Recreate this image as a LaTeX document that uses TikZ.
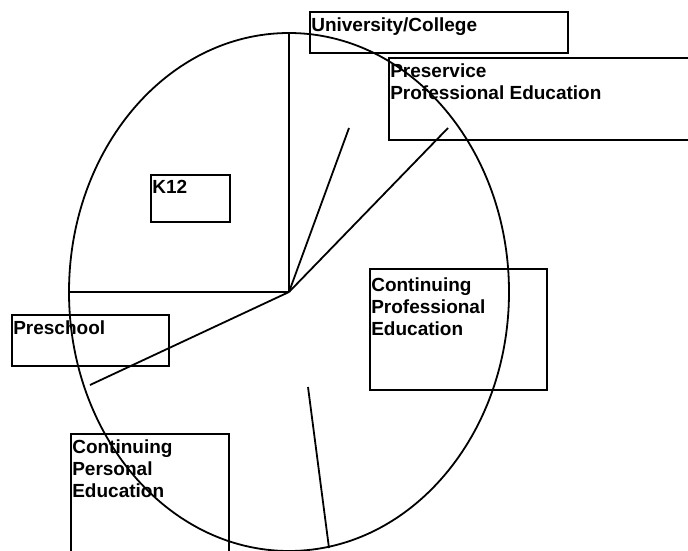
\documentclass[tikz,border=0pt]{standalone}
\usepackage{fontspec}
\setmainfont{Liberation Sans}
\usetikzlibrary{positioning}

\begin{document}
\begin{tikzpicture}[x=1pt,y=-1pt,semithick]
  \tikzstyle{sector}=[line width=1.8pt]
  \tikzstyle{frame}=[draw, rectangle, line width=1.8pt, inner sep=0pt, anchor=north west]
  \tikzstyle{tag}=[anchor=north west, align=left, inner xsep=2pt, inner ysep=6pt, font=\bfseries\fontsize{19}{22}\selectfont]
  \useasboundingbox (0,0) rectangle (688,551);

  % pie
  \coordinate (c) at (289,292);
  \draw[sector] (c) ellipse [x radius=220, y radius=259];
  \coordinate (t) at (289,33);
  \coordinate (a) at (349,128);
  \coordinate (b) at (448,128);
  \coordinate (l) at (69,292);
  \coordinate (s) at (90,385);
  \foreach \p in {t,a,b,l,s}{
    \draw[sector] (c) -- (\p);
  }
  \coordinate (d1) at (308,387);
  \coordinate (d2) at (329,548);
  \draw[sector] (d1) -- (d2);

  % labels
  \node[frame, minimum width=258, minimum height=41] (uni) at (309,11) {};
  \node[tag] at (uni.north west) {University/College};
  \node[frame, minimum width=320, minimum height=82] (pre) at (388,57) {};
  \node[tag] at (pre.north west) {Preservice\\Professional Education};
  \node[frame, minimum width=79, minimum height=47] (k12) at (150,174) {};
  \node[tag] at (k12.north west) {K12};
  \node[frame, minimum width=157, minimum height=51] (presch) at (11,314) {};
  \node[tag] at (presch.north west) {Preschool};
  \node[frame, minimum width=177, minimum height=121] (cpro) at (369,268) {};
  \node[tag, inner ysep=9pt] at (cpro.north west) {Continuing\\Professional\\Education};
  \node[frame, minimum width=158, minimum height=130] (cper) at (70,433) {};
  \node[tag] at (cper.north west) {Continuing\\Personal\\Education};
\end{tikzpicture}
\end{document}
